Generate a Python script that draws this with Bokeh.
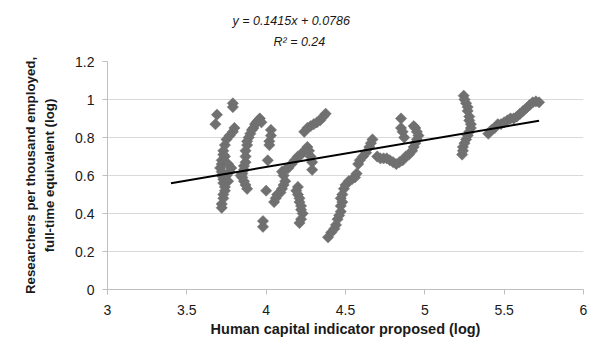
import numpy as np
from bokeh.plotting import figure
from bokeh.models import Title, FixedTicker
from bokeh.embed import file_html
from bokeh.resources import INLINE

# ---- data ----
s1_x = [3.72, 3.72, 3.73, 3.73, 3.74, 3.74, 3.73, 3.73, 3.72, 3.72, 3.71, 3.72, 3.72, 3.73, 3.73, 3.74, 3.75, 3.77, 3.79, 3.80,
        3.69, 3.68, 3.79, 3.79, 3.75, 3.77, 3.78, 3.76, 3.76, 3.74]
s1_y = [0.43, 0.45, 0.48, 0.50, 0.52, 0.54, 0.56, 0.58, 0.60, 0.62, 0.64, 0.66, 0.68, 0.71, 0.73, 0.76, 0.79, 0.81, 0.83, 0.85,
        0.92, 0.87, 0.98, 0.96, 0.60, 0.62, 0.64, 0.66, 0.57, 0.70]

s2_x = [3.88, 3.87, 3.86, 3.85, 3.85, 3.86, 3.86, 3.87, 3.87, 3.87, 3.88, 3.88, 3.89, 3.90, 3.91, 3.92, 3.93, 3.94, 3.95, 3.96, 3.97, 3.84]
s2_y = [0.53, 0.55, 0.57, 0.59, 0.61, 0.63, 0.65, 0.67, 0.70, 0.73, 0.76, 0.78, 0.80, 0.82, 0.84, 0.85, 0.87, 0.88, 0.89, 0.90, 0.88, 0.60]

s3_x = [4.03, 4.03, 4.02, 4.02, 4.01, 4.00, 3.98, 3.98]
s3_y = [0.84, 0.81, 0.78, 0.76, 0.68, 0.52, 0.36, 0.33]

s4_x = [4.05, 4.06, 4.07, 4.09, 4.10, 4.11, 4.12, 4.11, 4.10, 4.12, 4.14, 4.16, 4.18, 4.20, 4.22, 4.24, 4.26, 4.27, 4.28, 4.29, 4.29,
        4.24, 4.26, 4.28, 4.30, 4.32, 4.34, 4.36, 4.375,
        4.20, 4.19, 4.20, 4.21, 4.21, 4.22, 4.22, 4.23, 4.22, 4.21]
s4_y = [0.46, 0.48, 0.50, 0.51, 0.53, 0.55, 0.57, 0.60, 0.62, 0.63, 0.64, 0.66, 0.68, 0.70, 0.71, 0.73, 0.75, 0.73, 0.70, 0.67, 0.63,
        0.83, 0.85, 0.86, 0.87, 0.88, 0.89, 0.91, 0.925,
        0.54, 0.52, 0.50, 0.48, 0.46, 0.44, 0.42, 0.40, 0.37, 0.35]

s5_x = [4.39, 4.41, 4.43, 4.44, 4.45, 4.46, 4.47, 4.47, 4.48, 4.47, 4.48, 4.49, 4.50, 4.52, 4.54, 4.56, 4.57, 4.58, 4.59, 4.61, 4.63, 4.65, 4.66, 4.67]
s5_y = [0.275, 0.30, 0.32, 0.34, 0.37, 0.39, 0.41, 0.44, 0.46, 0.48, 0.50, 0.53, 0.55, 0.57, 0.58, 0.59, 0.61, 0.66, 0.68, 0.70, 0.72, 0.75, 0.77, 0.79]

s6_x = [4.70, 4.72, 4.74, 4.76, 4.78, 4.80, 4.82, 4.84, 4.86, 4.88, 4.90, 4.92, 4.93, 4.94, 4.95, 4.96, 4.95, 4.94, 4.93,
        4.85, 4.85, 4.86, 4.87]
s6_y = [0.70, 0.69, 0.69, 0.69, 0.68, 0.67, 0.66, 0.67, 0.68, 0.70, 0.71, 0.73, 0.75, 0.77, 0.79, 0.81, 0.83, 0.85, 0.86,
        0.90, 0.85, 0.83, 0.80]

s7_x = [5.245, 5.25, 5.26, 5.27, 5.27, 5.28, 5.28, 5.29, 5.29, 5.28, 5.27, 5.26, 5.25, 5.24, 5.24, 5.235]
s7_y = [1.02, 1.00, 0.98, 0.96, 0.94, 0.91, 0.89, 0.87, 0.85, 0.83, 0.81, 0.79, 0.77, 0.75, 0.73, 0.71]

s8_x = [5.40, 5.42, 5.44, 5.46, 5.48, 5.50, 5.52, 5.54, 5.56, 5.58, 5.60, 5.62, 5.64, 5.66, 5.68, 5.70, 5.72]
s8_y = [0.82, 0.84, 0.85, 0.87, 0.87, 0.88, 0.89, 0.90, 0.90, 0.91, 0.925, 0.94, 0.955, 0.97, 0.985, 0.99, 0.985]

trend_slope = 0.1415
trend_intercept = 0.0786
trend_x = [3.4, 5.72]

x_ticks = [3, 3.5, 4, 4.5, 5, 5.5, 6]
y_ticks = [0, 0.2, 0.4, 0.6, 0.8, 1, 1.2]

xs = s1_x + s2_x + s3_x + s4_x + s5_x + s6_x + s7_x + s8_x
ys = s1_y + s2_y + s3_y + s4_y + s5_y + s6_y + s7_y + s8_y

FONT = "Liberation Sans"

p = figure(width=592, height=363, output_backend="svg", toolbar_location=None,
           x_range=(3, 6), y_range=(0, 1.2),
           min_border_left=107, min_border_right=9, min_border_top=61, min_border_bottom=74)
p.outline_line_color = None
p.background_fill_color = "white"
p.border_fill_color = "white"

p.scatter(xs, ys, marker="square", angle=np.pi / 4, size=8,
          fill_color="#707070", line_color="#707070", line_width=0.5)

ty = [trend_slope * v + trend_intercept for v in trend_x]
p.line(trend_x, ty, line_color="black", line_width=2)

p.xgrid.visible = False
p.ygrid.grid_line_color = "#d9d9d9"
p.ygrid.grid_line_width = 1

p.xaxis.ticker = FixedTicker(ticks=x_ticks)
p.yaxis.ticker = FixedTicker(ticks=y_ticks)
p.xaxis.major_label_overrides = {3: "3", 3.5: "3.5", 4: "4", 4.5: "4.5", 5: "5", 5.5: "5.5", 6: "6"}
p.yaxis.major_label_overrides = {0: "0", 0.2: "0.2", 0.4: "0.4", 0.6: "0.6", 0.8: "0.8", 1: "1", 1.2: "1.2"}

for ax in (p.xaxis, p.yaxis):
    ax.axis_line_color = "#bfbfbf"
    ax.major_tick_line_color = "#bfbfbf"
    ax.minor_tick_line_color = None
    ax.major_tick_in = 0
    ax.major_tick_out = 5
    ax.major_label_text_font = FONT
    ax.major_label_text_font_size = "14px"
    ax.major_label_text_color = "#1a1a1a"
    ax.axis_label_text_font = FONT
    ax.axis_label_text_font_style = "bold"
    ax.axis_label_text_color = "#1a1a1a"

p.xaxis.major_label_standoff = 10
p.yaxis.major_label_standoff = 8
p.xaxis.axis_label = "Human capital indicator proposed (log)"
p.xaxis.axis_label_text_font_size = "14.5px"
p.xaxis.axis_label_standoff = 3
p.yaxis.axis_label = "Researchers per thousand employed,\nfull-time equivalent (log)"
p.yaxis.axis_label_text_font_size = "13.3px"
p.yaxis.axis_label_text_line_height = 1.3
p.yaxis.axis_label_standoff = 15

eq2 = Title(text="R² = 0.24", align="left", offset=166, standoff=25,
            text_font=FONT, text_font_size="12.5px", text_font_style="italic",
            text_color="#1a1a1a")
eq1 = Title(text="y = 0.1415x + 0.0786", align="left", offset=125, standoff=-15,
            text_font=FONT, text_font_size="12.5px", text_font_style="italic",
            text_color="#1a1a1a")
p.add_layout(eq2, "above")
p.add_layout(eq1, "above")

open("out.html", "w").write(file_html(p, INLINE))
